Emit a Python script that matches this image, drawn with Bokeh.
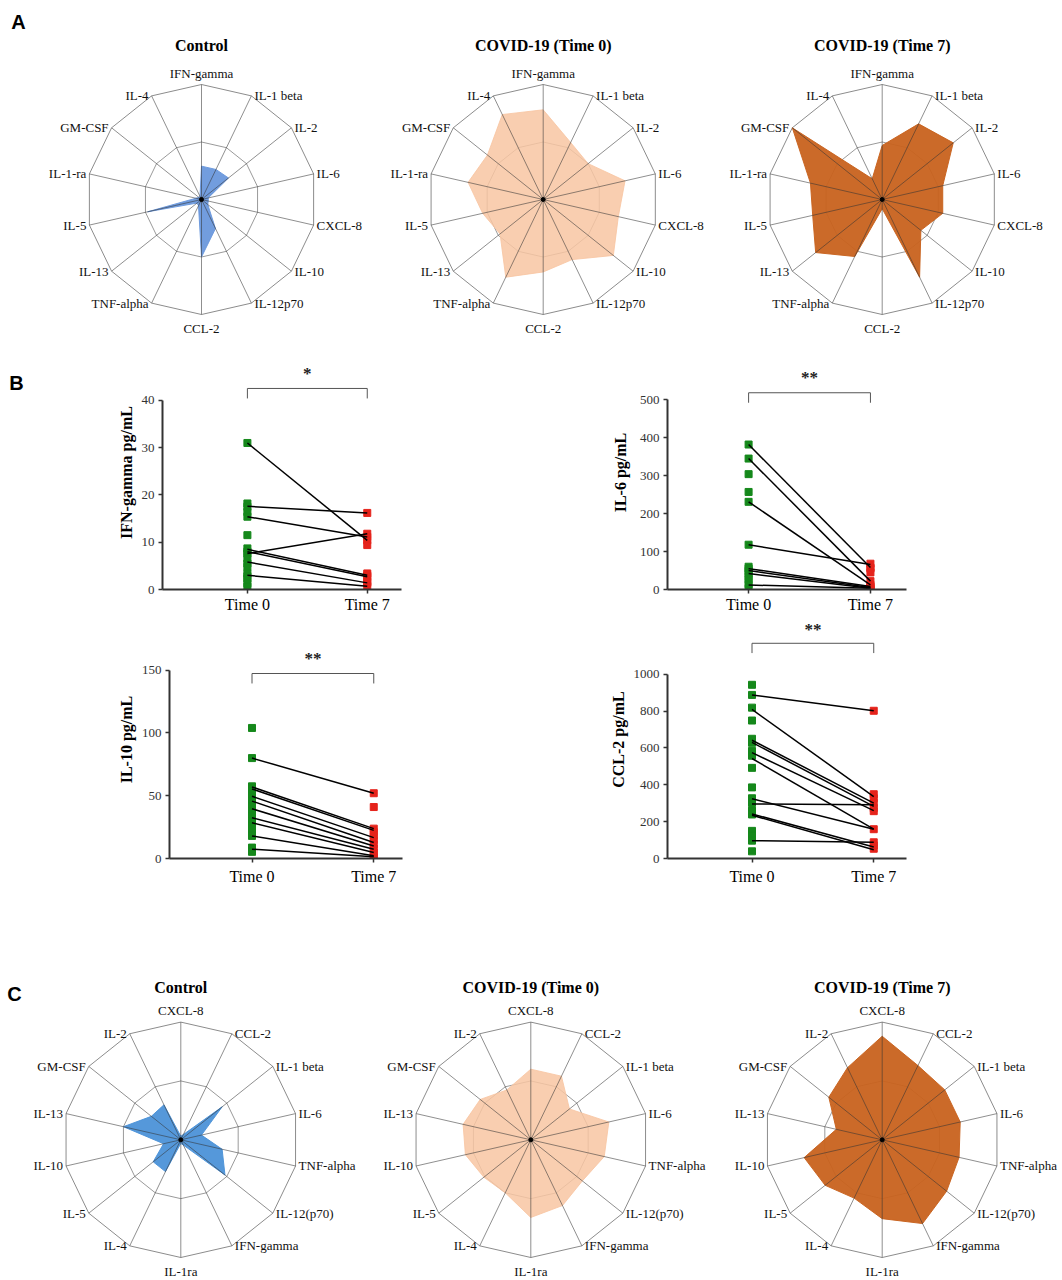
import math
from bokeh.plotting import figure
from bokeh.layouts import row, column
from bokeh.models import Range1d, FixedTicker
from bokeh.core.properties import value
from bokeh.embed import file_html
from bokeh.resources import INLINE

SERIF = "Liberation Serif"
SANS = "Liberation Sans"

# ---------------- Panel A radar data (axes clockwise from top) ----------------
labels_a = ["IFN-gamma", "IL-1 beta", "IL-2", "IL-6", "CXCL-8", "IL-10", "IL-12p70",
            "CCL-2", "TNF-alpha", "IL-13", "IL-5", "IL-1-ra", "GM-CSF", "IL-4"]
a_control = [0.29, 0.29, 0.30, 0.06, 0.06, 0.07, 0.28, 0.50, 0.06, 0.05, 0.48, 0.05, 0.03, 0.03]
a_time0 = [0.78, 0.55, 0.50, 0.73, 0.67, 0.78, 0.58, 0.63, 0.75, 0.48, 0.54, 0.67, 0.62, 0.82]
a_time7 = [0.47, 0.73, 0.79, 0.54, 0.54, 0.43, 0.75, 0.08, 0.55, 0.74, 0.62, 0.64, 1.00, 0.20]

# ---------------- Panel C radar data ----------------
labels_c = ["CXCL-8", "CCL-2", "IL-1 beta", "IL-6", "TNF-alpha", "IL-12(p70)", "IFN-gamma",
            "IL-1ra", "IL-4", "IL-5", "IL-10", "IL-13", "GM-CSF", "IL-2"]
c_control = [0.03, 0.05, 0.45, 0.18, 0.36, 0.48, 0.05, 0.03, 0.30, 0.30, 0.15, 0.50, 0.32, 0.33]
c_time0 = [0.60, 0.60, 0.42, 0.68, 0.64, 0.56, 0.62, 0.66, 0.50, 0.51, 0.57, 0.59, 0.55, 0.47]
c_time7 = [0.88, 0.70, 0.68, 0.68, 0.67, 0.70, 0.79, 0.67, 0.55, 0.62, 0.68, 0.40, 0.58, 0.68]

# ---------------- Panel B paired data ----------------
time_labels = ["Time 0", "Time 7"]

ifn_t0 = [31.0, 18.2, 17.5, 16.4, 15.4, 11.5, 8.7, 8.0, 7.6, 6.5, 5.5, 4.8, 3.4, 2.8, 2.3, 1.3, 0.6]
ifn_t7 = [16.2, 11.8, 11.1, 10.4, 9.4, 3.4, 3.0, 2.7, 1.6, 1.4, 0.7]
ifn_pair_t0 = [31.0, 17.6, 15.4, 7.6, 8.5, 8.0, 5.8, 3.0]
ifn_pair_t7 = [10.4, 16.2, 11.1, 11.8, 3.0, 2.7, 1.4, 0.7]

il6_t0 = [382, 345, 304, 257, 231, 118, 60, 55, 49, 42, 33, 25, 14, 4]
il6_t7 = [68, 58, 55, 45, 22, 12, 8, 5, 3, 1]
il6_pair_t0 = [382, 345, 231, 118, 55, 50, 42, 12]
il6_pair_t7 = [58, 22, 12, 66, 8, 5, 3, 3]

il10_t0 = [104, 80, 57.5, 55.4, 53.6, 49.6, 45.7, 41.7, 37.8, 33.8, 29.8, 25.9, 21.9, 18.0, 8.7, 5.3]
il10_t7 = [52, 41, 23.8, 21, 18, 14.8, 11.4, 7.9, 4.8, 2.1, 0.5]
il10_pair_t0 = [80, 57.0, 55.4, 49.6, 45.7, 39.6, 32.5, 28.5, 18.0, 7.4]
il10_pair_t7 = [52, 23.8, 22.4, 16.6, 12.7, 10.0, 7.4, 4.8, 2.1, 1.3]

ccl2_t0 = [943, 888, 819, 749, 650, 628, 584, 558, 492, 386, 327, 301, 260, 239, 150, 124, 97, 39]
ccl2_t7 = [802, 349, 327, 301, 274, 257, 159, 88, 71, 53]
ccl2_pair_t0 = [888, 809, 642, 630, 575, 543, 324, 296, 242, 235, 97]
ccl2_pair_t7 = [802, 336, 301, 283, 260, 159, 159, 292, 62, 48, 88]

BLUE_A = "#6a98dc"
BLUE_C = "#4c92d8"
PEACH = "#f8c6a2"
ORANGE = "#c8621e"
GREEN = "#15881b"
RED = "#e5231b"


def base_fig(W, H, xr, yr, **kw):
    p = figure(width=W, height=H, x_range=xr, y_range=yr, output_backend="svg",
               toolbar_location=None, **kw)
    p.outline_line_color = None
    return p


def radar(W, H, cx, cy, R, labels, vals, fill, alpha, title, title_y, letter=None, letter_xy=None):
    p = base_fig(W, H, Range1d(-cx / R, (W - cx) / R), Range1d(-(H - cy) / R, cy / R),
                 x_axis_type=None, y_axis_type=None, min_border=0)
    n = len(labels)
    ang = [2 * math.pi * k / n for k in range(n)]
    sx = [math.sin(a) for a in ang]
    sy = [math.cos(a) for a in ang]
    p.patch(sx + [sx[0]], sy + [sy[0]], fill_color=None, line_color="#8c8c8c", line_width=1)
    p.patch([0.5 * v for v in sx] + [0.5 * sx[0]], [0.5 * v for v in sy] + [0.5 * sy[0]],
            fill_color=None, line_color="#9a9a9a", line_width=1)
    xs = [v * s for v, s in zip(vals, sx)]
    ys = [v * s for v, s in zip(vals, sy)]
    p.patch(xs, ys, fill_color=fill, fill_alpha=alpha, line_color=fill, line_alpha=alpha, line_width=1)
    p.segment(x0=[0] * n, y0=[0] * n, x1=sx, y1=sy, line_color="#333333", line_alpha=0.55, line_width=1)
    p.scatter([0], [0], size=4, color="black")
    for k in range(n):
        a = ang[k]
        if k == 0:
            al, bl, xo, yo = "center", "bottom", 0, -4
        elif abs(a - math.pi) < 1e-6:
            al, bl, xo, yo = "center", "top", 0, 6
        elif a < math.pi:
            al, bl, xo, yo = "left", "middle", 3, 0
        else:
            al, bl, xo, yo = "right", "middle", -3, 0
        p.text(x=[sx[k]], y=[sy[k]], text=[labels[k]], x_offset=xo, y_offset=yo,
               text_align=al, text_baseline=bl, text_font=value(SERIF),
               text_font_size="13px", text_color="#111111")
    p.text(x=[0], y=[(cy - title_y) / R], text=[title], text_align="center", text_baseline="middle",
           text_font=value(SERIF), text_font_style="bold", text_font_size="16px", text_color="black")
    if letter:
        lx, ly = letter_xy
        p.text(x=[(lx - cx) / R], y=[(cy - ly) / R], text=[letter], text_align="center",
               text_baseline="middle", text_font=value(SANS), text_font_style="bold",
               text_font_size="20px", text_color="black")
    return p


def letter_fig(W, H, letter, lx, ly):
    p = base_fig(W, H, Range1d(0, W), Range1d(H, 0), x_axis_type=None, y_axis_type=None, min_border=0)
    p.text(x=[lx], y=[ly], text=[letter], text_align="center", text_baseline="middle",
           text_font=value(SANS), text_font_style="bold", text_font_size="20px", text_color="black")
    return p


def dotplot(fig_x, fig_y, W, H, axis_x, frame_r, frame_t, y0_img, ymax_img, ymax, ticks,
            t0_img, t7_img, axis_end_img, bracket_img, star_img, star, ylabel,
            t0, t7, p0, p7, tick_standoff, label_standoff, xlab_standoff):
    pxu = (y0_img - ymax_img) / ymax
    pxx = t7_img - t0_img
    xs = -(t0_img - axis_x) / pxx
    xe = (frame_r - t0_img) / pxx
    ye = (y0_img - frame_t) / pxu
    p = base_fig(W, H, Range1d(xs, xe), Range1d(0, ye),
                 min_border_left=round(axis_x - fig_x), min_border_right=round(fig_x + W - frame_r),
                 min_border_top=round(frame_t - fig_y), min_border_bottom=round(fig_y + H - y0_img))
    p.xgrid.visible = False
    p.ygrid.visible = False
    for ax in (p.xaxis[0], p.yaxis[0]):
        ax.axis_line_width = 2
        ax.axis_line_color = "#333333"
        ax.major_tick_line_color = "#333333"
        ax.major_tick_line_width = 1.5
        ax.major_tick_in = 0
        ax.major_tick_out = 4
        ax.minor_tick_line_color = None
    p.yaxis.ticker = FixedTicker(ticks=ticks)
    p.yaxis.bounds = (0, ymax)
    p.yaxis.major_label_text_font = SERIF
    p.yaxis.major_label_text_font_size = "13px"
    p.yaxis.major_label_text_color = "#333333"
    p.yaxis.major_label_standoff = tick_standoff
    p.yaxis.axis_label = ylabel
    p.yaxis.axis_label_text_font = SERIF
    p.yaxis.axis_label_text_font_style = "bold"
    p.yaxis.axis_label_text_font_size = "16px"
    p.yaxis.axis_label_text_color = "black"
    p.yaxis.axis_label_standoff = label_standoff
    p.xaxis.ticker = FixedTicker(ticks=[0, 1])
    p.xaxis.major_label_overrides = {0: time_labels[0], 1: time_labels[1]}
    p.xaxis.bounds = (xs, (axis_end_img - t0_img) / pxx)
    p.xaxis.major_label_text_font = SERIF
    p.xaxis.major_label_text_font_size = "16px"
    p.xaxis.major_label_text_color = "black"
    p.xaxis.major_label_standoff = xlab_standoff

    p.scatter(x=[0] * len(t0), y=t0, marker="square", size=7, color=GREEN)
    p.scatter(x=[1] * len(t7), y=t7, marker="square", size=7, color=RED)
    p.segment(x0=[0] * len(p0), y0=p0, x1=[1] * len(p7), y1=p7, line_color="black", line_width=1.5)

    yb = (y0_img - bracket_img) / pxu
    d = 10 / pxu
    p.line([0, 0, 1, 1], [yb - d, yb, yb, yb - d], line_color="#555555", line_width=1)
    p.text(x=[0.5], y=[(y0_img - star_img - 3) / pxu], text=[star], text_align="center",
           text_baseline="middle", text_font=value(SERIF), text_font_style="bold",
           text_font_size="17px", text_color="#222222")
    return p


# ---------------- Row A (image y 0 -> 350) ----------------
HA = 350
a1 = radar(375, HA, 201.0, 199, 115, labels_a, a_control, BLUE_A, 0.95, "Control", 45, "A", (18, 21))
a2 = radar(343, HA, 167.7, 199, 115, labels_a, a_time0, PEACH, 0.85, "COVID-19 (Time 0)", 45)
a3 = radar(342, HA, 163.7, 199, 115, labels_a, a_time7, ORANGE, 0.95, "COVID-19 (Time 7)", 45)

# ---------------- Row B1 (image y 350 -> 615) ----------------
bL = letter_fig(40, 265, "B", 16, 31)
b1 = dotplot(40, 350, 500, 265, 161.7, 410, 355, 589.3, 400, 40, [0, 10, 20, 30, 40],
             246.7, 366.7, 401, 388, 370, "*", "IFN-gamma pg/mL",
             ifn_t0, ifn_t7, ifn_pair_t0, ifn_pair_t7, 4, 4, 2)
b2 = dotplot(540, 350, 520, 265, 667.3, 915, 355, 589.3, 399.3, 500, [0, 100, 200, 300, 400, 500],
             748.3, 870, 906, 392.3, 374, "**", "IL-6 pg/mL",
             il6_t0, il6_t7, il6_pair_t0, il6_pair_t7, 4, 8, 2)

# ---------------- Row B2 (image y 615 -> 893) ----------------
b3 = dotplot(0, 615, 540, 278, 169.3, 410, 620, 859.3, 670, 150, [0, 50, 100, 150],
             251.7, 373.3, 402, 673.3, 655, "**", "IL-10 pg/mL",
             il10_t0, il10_t7, il10_pair_t0, il10_pair_t7, 4, 4, 5)
b4 = dotplot(540, 615, 520, 278, 667.3, 915, 615, 858.3, 670, 1000, [0, 200, 400, 600, 800, 1000],
             751.7, 873.3, 906, 638.3, 621, "**", "CCL-2 pg/mL",
             ccl2_t0, ccl2_t7, ccl2_pair_t0, ccl2_pair_t7, 4, 4, 5)

# ---------------- Row C (image y 893 -> 1278) ----------------
HC = 385
c1 = radar(372, HC, 180.3, 246.3, 117.7, labels_c, c_control, BLUE_C, 0.95, "Control", 93.7, "C", (14, 100))
c2 = radar(346, HC, 158.3, 246.3, 117.7, labels_c, c_time0, PEACH, 0.85, "COVID-19 (Time 0)", 93.7)
c3 = radar(342, HC, 163.7, 246.3, 117.7, labels_c, c_time7, ORANGE, 0.95, "COVID-19 (Time 7)", 93.7)

layout = column(row(a1, a2, a3), row(bL, b1, b2), row(b3, b4), row(c1, c2, c3))
open("out.html", "w").write(file_html(layout, INLINE))
